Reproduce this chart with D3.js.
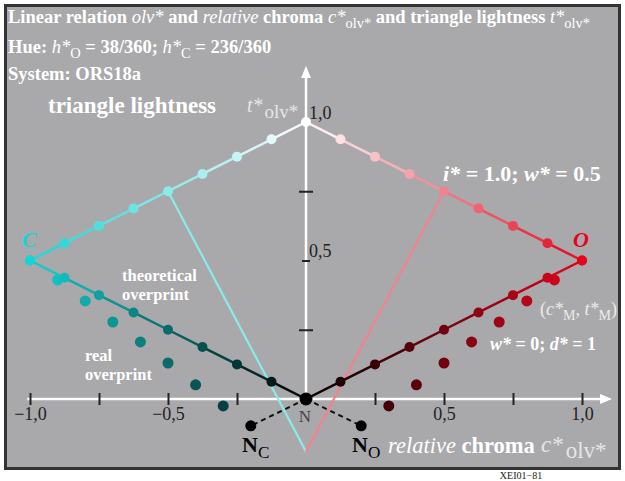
<!DOCTYPE html>
<html>
<head>
<meta charset="utf-8">
<script src="https://cdn.jsdelivr.net/npm/d3@7"></script>
<style>
  body { margin: 0; background: #fff; }
  svg { display: block; }
</style>
</head>
<body>
<script>
// Relative chroma steps along each triangle edge (absolute value; sign gives the hue side)
const chromaSteps = [0, 0.125, 0.25, 0.375, 0.5, 0.625, 0.75, 0.875, 1.0];
// Triangle lightness on the upper edge (white -> colour) and lower edge (black -> colour)
const upperLightness = [1.0, 0.9375, 0.875, 0.8125, 0.75, 0.6875, 0.625, 0.5625, 0.5];
const lowerLightness = [0.0, 0.0625, 0.125, 0.1875, 0.25, 0.3125, 0.375, 0.4375, 0.5];
// Measured (real overprint) samples
const realChroma = [0.90, 0.80, 0.70, 0.60, 0.50, 0.40, 0.30];
const realLightness = [0.43, 0.354, 0.278, 0.206, 0.13, 0.051, -0.025];
// Real black points N_C and N_O
const neutralChroma = [0.20];
const neutralLightness = [-0.097];
// Theoretical overprint line: from the mid point of the upper edge down to the axis
const theoryChroma = [0.5, 0.0];
const theoryLightness = [0.75, -0.19];
// Axis ticks
const xTickValues = [-1, -0.75, -0.5, -0.25, 0.25, 0.5, 0.75, 1];
const xTickLabels = { "-1": "\u22121,0", "-0.5": "\u22120,5", "0.5": "0,5", "1": "1,0" };
const yTickValues = [0.25, 0.5, 0.75, 1.0];
const yTickLabels = { "0.5": "0,5", "1": "1,0" };
// Two hue sides
const sides = [
  { sign: -1, colour: "#16d4d4", name: "C" },
  { sign: 1, colour: "#e4061c", name: "O" }
];

const W = 625, H = 481;
const serif = "'Liberation Serif', 'Times New Roman', serif";
const x = d3.scaleLinear().domain([-1, 1]).range([30, 582]);
const y = d3.scaleLinear().domain([0, 1]).range([399, 122]);

const svg = d3.select("body").append("svg").attr("width", W).attr("height", H);

// Panel
svg.append("rect").attr("x", 5.5).attr("y", 5.5).attr("width", 614).attr("height", 463)
  .attr("fill", "#a9a9ab").attr("stroke", "#333").attr("stroke-width", 3);

// Rich text helper: parts with italic / weight / subscript
function rich(g, px, py, size, fill, parts, anchor) {
  const t = g.append("text").attr("x", px).attr("y", py)
    .attr("font-family", serif).attr("font-size", size).attr("font-weight", "bold")
    .attr("fill", fill).attr("text-anchor", anchor || "start");
  let off = 0;
  parts.forEach(p => {
    const target = p.sub ? size * 0.28 : 0;
    const s = t.append("tspan").text(p.t).attr("dy", target - off);
    off = target;
    if (p.sub) s.attr("font-size", size * (p.scale || 0.78));
    if (p.dx) s.attr("dx", p.dx);
    if (p.i) s.attr("font-style", "italic");
    if (p.w) s.attr("font-weight", p.w);
    if (p.fill) s.attr("fill", p.fill);
  });
  return t;
}

// Axes
const axisG = svg.append("g");
axisG.append("line").attr("x1", x(-1.01)).attr("x2", 604).attr("y1", y(0)).attr("y2", y(0))
  .attr("stroke", "#fff").attr("stroke-width", 2.5);
axisG.append("path").attr("d", `M612,${y(0)} L600,${y(0) - 5} L600,${y(0) + 5} Z`).attr("fill", "#fff");
axisG.append("line").attr("x1", x(0)).attr("x2", x(0)).attr("y1", y(0)).attr("y2", 76)
  .attr("stroke", "#fff").attr("stroke-width", 2.5);
axisG.append("path").attr("d", `M${x(0)},66 L${x(0) - 5},78 L${x(0) + 5},78 Z`).attr("fill", "#fff");

const xAxis = d3.axisBottom(x).tickValues(xTickValues).tickSize(12).tickSizeOuter(0)
  .tickFormat(d => xTickLabels[String(d)] || "");
const xg = svg.append("g").attr("transform", `translate(0,${y(0) - 6})`).call(xAxis);
xg.select(".domain").remove();
xg.selectAll(".tick line").attr("stroke", "#222").attr("stroke-width", 2);
xg.selectAll(".tick text").attr("y", 27).attr("dy", 0).attr("fill", "#222")
  .attr("font-family", serif).attr("font-size", 18);

const yAxis = d3.axisRight(y).tickValues(yTickValues).tickSize(0)
  .tickFormat(d => yTickLabels[String(d)] || "");
const yg = svg.append("g").attr("transform", `translate(${x(0)},0)`).call(yAxis);
yg.select(".domain").remove();
yg.selectAll(".tick text").attr("x", 3).attr("dy", -4).attr("text-anchor", "start")
  .attr("fill", "#222").attr("font-family", serif).attr("font-size", 18);
yg.selectAll(".tick").append("line")
  .attr("x1", d => yTickLabels[String(d)] ? -4 : -7)
  .attr("x2", d => yTickLabels[String(d)] ? 4 : 7)
  .attr("stroke", "#222").attr("stroke-width", 2);

// Colour along the edges
const upperColour = (side, c) => d3.interpolateRgb("#ffffff", side.colour)(c);
const lowerColour = (side, c) => d3.interpolateRgb("#000000", side.colour)(c);

// Theoretical overprint lines
sides.forEach(side => {
  svg.append("line")
    .attr("x1", x(side.sign * theoryChroma[0])).attr("y1", y(theoryLightness[0]))
    .attr("x2", x(side.sign * theoryChroma[1])).attr("y2", y(theoryLightness[1]))
    .attr("stroke", upperColour(side, theoryChroma[0])).attr("stroke-width", 2.2);
});

// Dashed lines to the real black points
sides.forEach(side => {
  svg.append("line")
    .attr("x1", x(0)).attr("y1", y(0))
    .attr("x2", x(side.sign * neutralChroma[0])).attr("y2", y(neutralLightness[0]))
    .attr("stroke", "#111").attr("stroke-width", 2).attr("stroke-dasharray", "5,4");
});

// Triangle edges, drawn as coloured segments
sides.forEach(side => {
  [[upperLightness, upperColour], [lowerLightness, lowerColour]].forEach(([light, col]) => {
    const pts = chromaSteps.map((c, i) => ({ c, t: light[i] }));
    const segs = d3.pairs(pts);
    svg.append("g").selectAll("line").data(segs).join("line")
      .attr("x1", d => x(side.sign * d[0].c)).attr("y1", d => y(d[0].t))
      .attr("x2", d => x(side.sign * d[1].c)).attr("y2", d => y(d[1].t))
      .attr("stroke", d => col(side, (d[0].c + d[1].c) / 2))
      .attr("stroke-width", 2.5).attr("stroke-linecap", "round");
  });
});

// Real overprint dots
sides.forEach(side => {
  const pts = realChroma.map((c, i) => ({ c, t: realLightness[i] }));
  svg.append("g").selectAll("circle").data(pts).join("circle")
    .attr("cx", d => x(side.sign * d.c)).attr("cy", d => y(d.t)).attr("r", 5.5)
    .attr("fill", d => lowerColour(side, d.c));
  svg.append("circle").attr("cx", x(side.sign * neutralChroma[0])).attr("cy", y(neutralLightness[0]))
    .attr("r", 5.5).attr("fill", "#000");
});

// Edge dots
sides.forEach(side => {
  [[upperLightness, upperColour], [lowerLightness, lowerColour]].forEach(([light, col]) => {
    const pts = chromaSteps.map((c, i) => ({ c, t: light[i] })).filter(d => d.c > 0);
    svg.append("g").selectAll("circle").data(pts).join("circle")
      .attr("cx", d => x(side.sign * d.c)).attr("cy", d => y(d.t)).attr("r", 5)
      .attr("fill", d => col(side, d.c));
  });
});
svg.append("circle").attr("cx", x(0)).attr("cy", y(upperLightness[0])).attr("r", 5).attr("fill", "#fff");
svg.append("circle").attr("cx", x(0)).attr("cy", y(lowerLightness[0])).attr("r", 6.5).attr("fill", "#000");

// Texts
const T = svg.append("g");
rich(T, 8, 23, 18.5, "#fff", [
  { t: "Linear relation " }, { t: "olv*", i: true, w: "normal" }, { t: " and " },
  { t: "relative", i: true, w: "normal" }, { t: " chroma " },
  { t: "c*", i: true, w: "normal" }, { t: "olv*", sub: true, w: "normal" },
  { t: " and triangle lightness " },
  { t: "t*", i: true, w: "normal" }, { t: "olv*", sub: true, w: "normal" }
]);
rich(T, 8, 53, 18.5, "#fff", [
  { t: "Hue: " }, { t: "h*", i: true, w: "normal" }, { t: "O", sub: true, w: "normal" },
  { t: " = 38/360; " }, { t: "h*", i: true, w: "normal" }, { t: "C", sub: true, w: "normal" },
  { t: " = 236/360" }
]);
rich(T, 8, 80, 18.5, "#fff", [{ t: "System: ORS18a" }]);

rich(T, 48, 113, 23, "#fff", [{ t: "triangle lightness" }]);
rich(T, 247, 112, 20, "#e6e6e6", [
  { t: "t*", i: true, w: "normal" }, { t: "olv*", sub: true, w: "normal", scale: 0.95, dx: 2 }
]);

rich(T, 443, 181, 22, "#fff", [
  { t: "i*", i: true }, { t: " = 1.0; " }, { t: "w*", i: true }, { t: " = 0.5" }
]);
rich(T, 22, 247, 22, sides[0].colour, [{ t: "C", i: true }]);
rich(T, 573, 247, 22, sides[1].colour, [{ t: "O", i: true }]);

rich(T, 122, 281, 16.5, "#fff", [{ t: "theoretical" }]);
rich(T, 122, 300, 16.5, "#fff", [{ t: "overprint" }]);
rich(T, 85, 361, 16.5, "#fff", [{ t: "real" }]);
rich(T, 85, 380, 16.5, "#fff", [{ t: "overprint" }]);

rich(T, 540, 315, 18, "#ececec", [
  { t: "(", w: "normal" }, { t: "c*", i: true, w: "normal" }, { t: "M", sub: true, w: "normal" },
  { t: ", ", w: "normal" }, { t: "t*", i: true, w: "normal" }, { t: "M", sub: true, w: "normal" },
  { t: ")", w: "normal" }
]);
rich(T, 490, 350, 18, "#fff", [
  { t: "w*", i: true }, { t: " = 0; " }, { t: "d*", i: true }, { t: " = 1" }
]);

rich(T, 305, 422, 17, "#444", [{ t: "N", w: "normal" }], "middle");
rich(T, 242, 452, 22, "#000", [{ t: "N" }, { t: "C", sub: true, w: "normal" }]);
rich(T, 352, 452, 22, "#000", [{ t: "N" }, { t: "O", sub: true, w: "normal" }]);
rich(T, 388, 453, 22.5, "#fff", [{ t: "relative", i: true, w: "normal" }, { t: " chroma" }]);
rich(T, 541, 452, 23, "#e6e6e6", [
  { t: "c*", i: true, w: "normal" }, { t: "olv*", sub: true, w: "normal", scale: 1.0, dx: 3 }
]);

rich(T, 521, 479, 10, "#222", [{ t: "XEI01\u221281", w: "normal" }], "middle");
</script>
</body>
</html>
